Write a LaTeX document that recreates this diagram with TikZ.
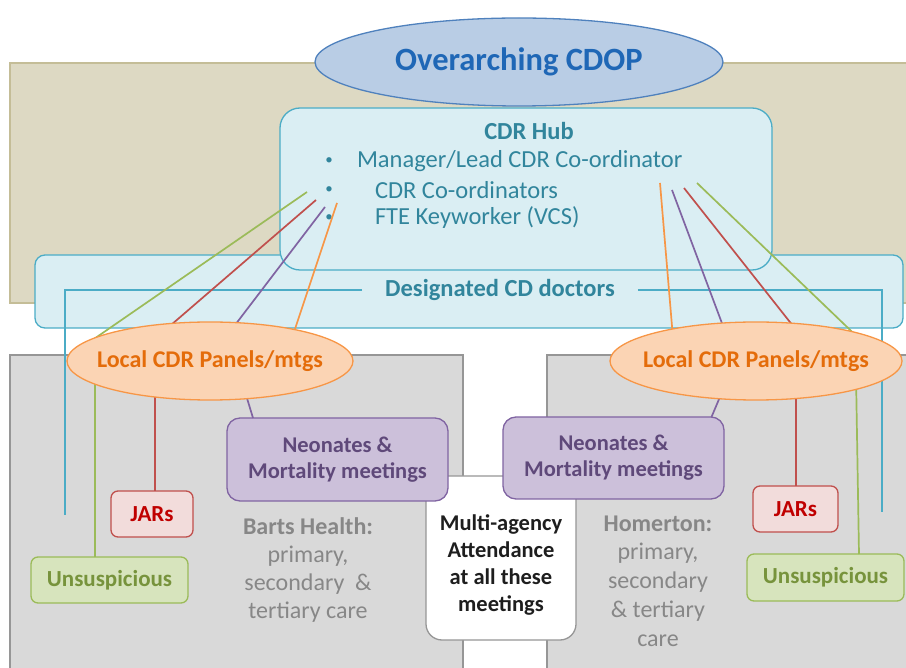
\documentclass[tikz,border=0pt]{standalone}
\usepackage{fontspec}
\setmainfont{Carlito}
\usetikzlibrary{shapes.geometric,calc}
\definecolor{tanfill}{RGB}{221,217,195}
\definecolor{tanline}{RGB}{196,189,151}
\definecolor{topfill}{RGB}{185,205,229}
\definecolor{topline}{RGB}{79,129,189}
\definecolor{toptext}{RGB}{31,103,182}
\definecolor{hubfill}{RGB}{218,238,243}
\definecolor{hubline}{RGB}{75,172,198}
\definecolor{hubtext}{RGB}{49,133,156}
\definecolor{grayfill}{RGB}{217,217,217}
\definecolor{grayline}{RGB}{150,150,150}
\definecolor{grytext}{RGB}{135,135,135}
\definecolor{orfill}{RGB}{251,212,180}
\definecolor{orline}{RGB}{247,150,70}
\definecolor{ortext}{RGB}{228,108,10}
\definecolor{pufill}{RGB}{204,192,218}
\definecolor{puline}{RGB}{128,100,162}
\definecolor{putext}{RGB}{95,73,122}
\definecolor{refill}{RGB}{242,220,219}
\definecolor{reline}{RGB}{192,80,77}
\definecolor{retext}{RGB}{192,0,0}
\definecolor{grfill}{RGB}{215,228,189}
\definecolor{grline}{RGB}{155,187,89}
\definecolor{grtext}{RGB}{119,147,60}
\definecolor{multitext}{RGB}{30,30,30}
\begin{document}
\begin{tikzpicture}[x=1pt,y=-1pt,
  plain/.style={inner sep=0pt,outer sep=0pt},
  rbox/.style={draw,plain,line width=1.3pt},
  tanbox/.style={rbox,fill=tanfill,draw=tanline},
  hubbox/.style={rbox,fill=hubfill,draw=hubline,rounded corners=20pt},
  docbox/.style={rbox,fill=hubfill,draw=hubline,rounded corners=10pt},
  graybox/.style={rbox,fill=grayfill,draw=grayline},
  multibox/.style={rbox,fill=white,draw=grayline,rounded corners=16pt},
  neobox/.style={rbox,fill=pufill,draw=puline,rounded corners=13pt,minimum width=221pt,minimum height=83pt,
     align=center,text=putext,font=\fontsize{22.5}{26}\selectfont\bfseries},
  jarbox/.style={rbox,fill=refill,draw=reline,rounded corners=7pt,minimum height=46pt,
     text=retext,font=\fontsize{23}{26}\selectfont\bfseries},
  unsbox/.style={rbox,fill=grfill,draw=grline,rounded corners=7pt,minimum width=157pt,minimum height=46pt,
     text=grtext,font=\fontsize{23}{26}\selectfont\bfseries},
  panel/.style={ellipse,draw=orline,fill=orfill,line width=1.3pt,plain,minimum height=78pt,
     text=ortext,font=\fontsize{24}{26}\selectfont\bfseries},
  lnk/.style={line width=1.7pt},
  hubtxt/.style={plain,text=hubtext,font=\fontsize{24.5}{26}\selectfont},
  bul/.style={plain,text=hubtext,font=\fontsize{15}{16}\selectfont},
  cattxt/.style={plain,align=center,text=grytext}
]
\useasboundingbox (0,0) rectangle (906,668);

% background blocks
\node[tanbox,minimum width=904pt,minimum height=240pt] (tan) at (462,183) {};
\node[docbox,minimum width=868pt,minimum height=73pt] (db) at (469,291.5) {};
\node[hubbox,minimum width=492pt,minimum height=162pt] (hub) at (526,189) {};
\node[ellipse,draw=topline,fill=topfill,line width=1.3pt,plain,minimum width=408pt,minimum height=88pt,
      text=toptext,font=\fontsize{32.5}{34}\selectfont\bfseries] (cdop) at (519,62) {\makebox[0pt]{Overarching CDOP}};

\node[graybox,minimum width=453pt,minimum height=330pt] (gL) at (236.5,520) {};
\node[graybox,minimum width=370pt,minimum height=330pt] (gR) at (732,520) {};
\node[multibox,minimum width=150pt,minimum height=164pt] (multi) at (501,558) {};
\node[plain,align=center,text=multitext,font=\fontsize{22.5}{26.7}\selectfont\bfseries] (mt) at (501,565)
  {Multi-agency\\Attendance\\at all these\\meetings};

\node[neobox] (nL) at (337.5,459.5) {Neonates \&\\Mortality meetings};
\node[neobox,minimum height=82pt] (nR) at (613.5,458) {Neonates \&\\Mortality meetings};
\node[jarbox,minimum width=82pt] (jL) at (152,514) {JARs};
\node[jarbox,minimum width=85pt] (jR) at (795.5,509) {JARs};
\node[unsbox] (uL) at (109.5,580) {Unsuspicious};
\node[unsbox,minimum height=47pt] (uR) at (825.5,577.5) {Unsuspicious};

% hub text
\node[hubtxt,font=\fontsize{24.5}{26}\selectfont\bfseries] (hubt) at (529,131) {CDR Hub};
\node[bul] (b1) at (329,161) {•};
\node[bul] (b2) at (329,190) {•};
\node[bul] (b3) at (329,218) {•};
\node[hubtxt,anchor=west] (i1) at (357,161) {Manager/Lead CDR Co-ordinator};
\node[hubtxt,anchor=west] (i2) at (375,190) {CDR Co-ordinators};
\node[hubtxt,anchor=west] (i3) at (375,218) {FTE Keyworker (VCS)};

% designated doctors
\node[plain,inner xsep=23pt,text=hubtext,font=\fontsize{24.5}{26}\selectfont\bfseries] (dt) at (500,290) {Designated CD doctors};
\coordinate (tl) at (65,515);
\coordinate (tr) at (882,512);
\draw[lnk,hubline] (dt.west) -| (tl);
\draw[lnk,hubline] (dt.east) -| (tr);

% hub start points
\coordinate (hg) at ($(hub)+(-219,3)$);
\coordinate (hr) at ($(hub)+(-210,11)$);
\coordinate (hp) at ($(hub)+(-201,18)$);
\coordinate (ho) at ($(hub)+(-189,14)$);
\coordinate (hoR) at ($(hub)+(134,-6)$);
\coordinate (hpR) at ($(hub)+(146,1)$);
\coordinate (hrR) at ($(hub)+(158,-1)$);
\coordinate (hgR) at ($(hub)+(171,-6)$);

% panel positions (nodes drawn after links)
\coordinate (lpc) at (210,361);
\coordinate (rpc) at (756,361);

\draw[lnk,grline] (hg) -- ($(lpc)+(-132,-11)$);
\draw[lnk,reline] (hr) -- ($(lpc)+(-68,-11)$);
\draw[lnk,puline] (hp) -- ($(lpc)+(6,-11)$);
\draw[lnk,orline] (ho) -- ($(lpc)+(78,-11)$);
\draw[lnk,orline] (hoR) -- ($(rpc)+(-82,-11)$);
\draw[lnk,puline] (hpR) -- ($(rpc)+(-24,-11)$);
\draw[lnk,reline] (hrR) -- ($(rpc)+(56,-11)$);
\draw[lnk,grline] (hgR) -- ($(rpc)+(115,-11)$);

\draw[lnk,grline] ($(uL.north)+(-14.5,0)$) -- ($(lpc)+(-115,14)$);
\draw[lnk,reline] ($(jL.north)+(3,0)$) -- ($(lpc)+(-55,10)$);
\draw[lnk,puline] ($(nL.north)+(-84.5,0)$) -- ($(lpc)+(33,24)$);
\draw[lnk,puline] ($(nR.north)+(98,0)$) -- ($(rpc)+(-31,24)$);
\draw[lnk,reline] ($(jR.north)+(0.5,0)$) -- ($(rpc)+(40,10)$);
\draw[lnk,grline] ($(uR.north)+(33.5,0)$) -- ($(rpc)+(100,14)$);

\node[panel,minimum width=286pt] (lp) at (lpc) {\makebox[0pt]{Local CDR Panels/mtgs}};
\node[panel,minimum width=292pt] (rp) at (rpc) {\makebox[0pt]{Local CDR Panels/mtgs}};

% site texts
\node[cattxt,font=\fontsize{24}{28}\selectfont] (barts) at (308,570)
  {\textbf{Barts Health:}\\primary,\\secondary\ \ \&\\tertiary care};
\node[cattxt,font=\fontsize{24}{28.7}\selectfont] (hom) at (658,581)
  {\textbf{Homerton:}\\primary,\\secondary\\\& tertiary\\care};
\end{tikzpicture}
\end{document}
